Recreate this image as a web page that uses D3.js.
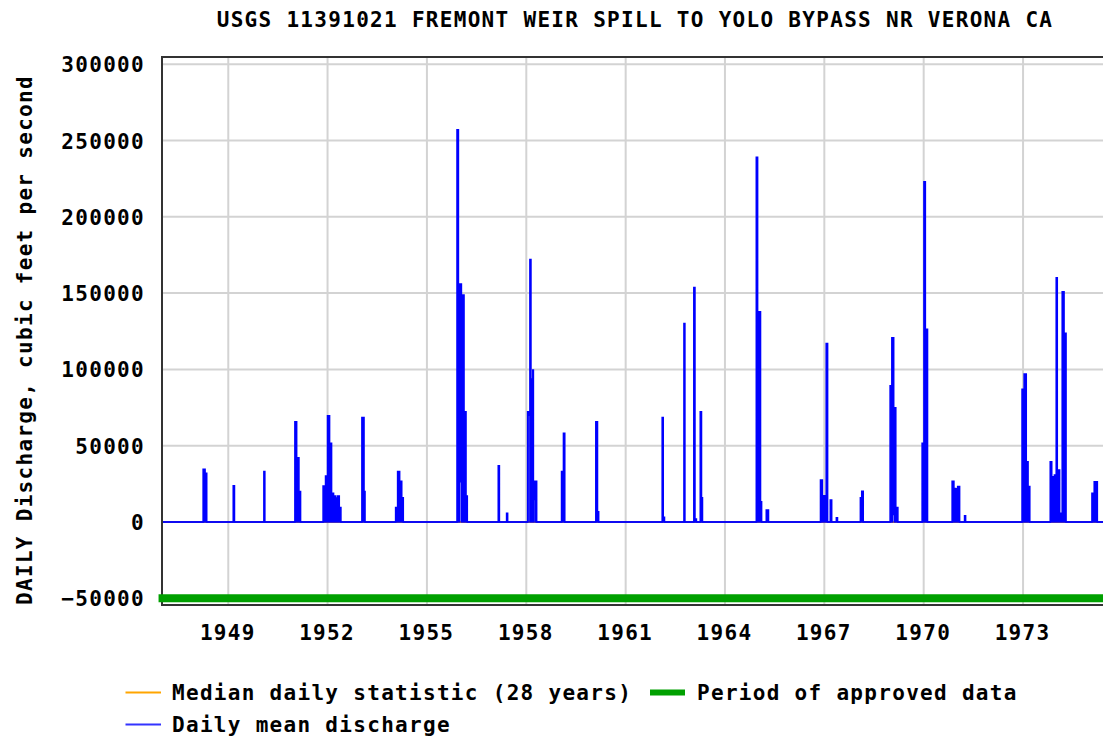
<!DOCTYPE html>
<html>
<head>
<meta charset="utf-8">
<script src="https://cdn.jsdelivr.net/npm/d3@7"></script>
<style>
  body { margin: 0; background: #fff; }
  svg text { font-family: "DejaVu Sans Mono", monospace; font-weight: bold; font-size: 21px; letter-spacing: 1.3px; fill: #000; }
</style>
</head>
<body>
<svg id="chart" width="1103" height="736"></svg>
<script>
// ---------------- data ----------------
const chartTitle = "USGS 11391021 FREMONT WEIR SPILL TO YOLO BYPASS NR VERONA CA";
const yAxisTitle = "DAILY Discharge, cubic feet per second";
const yTickValues = [-50000, 0, 50000, 100000, 150000, 200000, 250000, 300000];
const xTickYears = [1949, 1952, 1955, 1958, 1961, 1964, 1967, 1970, 1973];
const xDomain = ["1947-01-01", "1975-10-01"];

// Daily mean discharge, as steps: each value holds from its date to the next date
const flowDates = [
  "1947-01-01",
  "1948-03-30", "1948-04-20", "1948-05-08",
  "1949-02-25", "1949-03-10",
  "1950-01-29", "1950-02-08",
  "1951-01-06", "1951-01-25", "1951-02-19", "1951-03-09",
  "1951-11-13", "1951-12-10", "1952-01-01", "1952-01-23", "1952-02-14", "1952-03-07", "1952-03-29", "1952-04-20", "1952-05-09", "1952-05-27",
  "1953-01-14", "1953-02-06", "1953-02-17",
  "1954-01-21", "1954-02-12", "1954-03-06", "1954-03-29", "1954-04-15",
  "1955-11-29", "1955-12-14", "1955-12-25", "1956-01-16", "1956-02-14", "1956-03-07", "1956-03-21",
  "1957-02-26", "1957-03-10", "1957-05-29", "1957-06-09",
  "1958-01-16", "1958-01-20", "1958-02-10", "1958-02-21", "1958-03-14", "1958-03-20", "1958-04-08", "1958-04-25",
  "1959-01-25", "1959-02-15", "1959-03-01",
  "1960-02-07", "1960-02-25", "1960-03-09",
  "1962-02-08", "1962-02-19", "1962-03-05", "1962-10-06", "1962-10-16",
  "1963-01-23", "1963-02-04", "1963-02-20", "1963-04-04", "1963-04-17", "1963-04-28",
  "1964-12-12", "1964-12-26", "1965-01-27", "1965-02-08", "1965-04-01", "1965-04-25",
  "1966-11-20", "1966-12-10", "1967-01-22", "1967-02-06", "1967-03-08", "1967-03-23", "1967-05-14", "1967-05-26",
  "1968-02-03", "1968-02-18", "1968-03-05",
  "1968-12-27", "1969-01-15", "1969-01-20", "1969-02-04", "1969-02-11", "1969-02-27", "1969-03-22",
  "1969-12-15", "1970-01-04", "1970-01-19", "1970-02-12",
  "1970-11-11", "1970-11-30", "1970-12-19", "1971-01-11", "1971-02-01", "1971-03-28", "1971-04-08",
  "1972-12-21", "1973-01-13", "1973-02-05", "1973-02-25", "1973-03-16",
  "1973-10-28", "1973-11-13", "1973-12-13", "1974-01-02", "1974-01-13", "1974-02-08", "1974-03-09", "1974-03-29", "1974-04-20",
  "1975-01-31", "1975-02-25", "1975-03-31",
  "1975-10-01"
];
const flowValues = [
  0,
  34500, 31900, 0,
  23800, 0,
  33000, 0,
  65700, 42100, 19900, 0,
  23600, 30100, 69600, 51500, 18800, 17000, 15700, 17000, 9400, 0,
  68500, 19900, 0,
  9400, 33000, 26600, 15900, 0,
  257000, 156000, 156000, 148700, 72200, 17000, 0,
  36900, 0, 5700, 0,
  72200, 72200, 172000, 93600, 99500, 26600, 26600, 0,
  33000, 58100, 0,
  65700, 6700, 0,
  68500, 3000, 0, 130100, 0,
  153700, 2000, 0, 72200, 15900, 0,
  239000, 137800, 13300, 0, 7900, 0,
  27500, 17200, 117000, 0, 14400, 0, 2800, 0,
  15900, 20100, 0,
  89300, 120700, 120700, 74900, 74900, 9400, 0,
  51500, 223000, 126200, 0,
  26600, 22000, 21800, 23200, 0, 4100, 0,
  86900, 96900, 39500, 23200, 0,
  39500, 29700, 30700, 160000, 34000, 5700, 150900, 123600, 0,
  18800, 26400, 0,
  0
];
// lower edge of each step (the daily trace dips no lower than this within the step)
const flowFloor = [
  0,
  0, 0, 0,
  0, 0,
  0, 0,
  0, 0, 0, 0,
  0, 0, 0, 0, 0, 0, 0, 0, 0, 0,
  0, 0, 0,
  0, 0, 0, 0, 0,
  0, 0, 26400, 0, 0, 0, 0,
  0, 0, 0, 0,
  0, 70000, 0, 0, 0, 14800, 0, 0,
  0, 0, 0,
  0, 0, 0,
  0, 0, 0, 0, 0,
  0, 0, 0, 0, 0, 0,
  0, 0, 0, 0, 0, 0,
  0, 0, 0, 0, 0, 0, 0, 0,
  0, 0, 0,
  0, 0, 5000, 5000, 0, 0, 0,
  0, 0, 0, 0,
  0, 0, 0, 0, 0, 0, 0,
  0, 0, 0, 0, 0,
  0, 0, 0, 0, 0, 0, 0, 0, 0,
  0, 0, 0,
  0
];

const medianDates = ["1947-01-01", "1975-10-01"];
const medianValues = [0, 0];
const approvedPeriod = ["1946-11-24", "1975-10-01"];
const approvedLevel = -50000;

const legendLabels = ["Median daily statistic (28 years)", "Period of approved data", "Daily mean discharge"];
const colors = { median: "#ffa500", approved: "#00a000", flow: "#0000ff", flowLegend: "#3333ff", grid: "#d3d3d3", frame: "#333333" };

// ---------------- chart ----------------
const svg = d3.select("#chart");
const P = { left: 162, top: 57, bottom: 605, right: 1114 };
const parse = d3.utcParse("%Y-%m-%d");

const x = d3.scaleUtc().domain(xDomain.map(parse)).range([P.left, P.right]);
const y = d3.scaleLinear().domain([-50000, 300000]).range([598.3, 64.2]);

svg.append("rect").attr("width", 1103).attr("height", 736).attr("fill", "#fff");

// gridlines
const grid = svg.append("g");
grid.selectAll("line.h").data(yTickValues).join("line")
  .attr("x1", P.left).attr("x2", P.right)
  .attr("y1", d => y(d)).attr("y2", d => y(d))
  .attr("stroke", colors.grid).attr("stroke-width", 2);
const xTickDates = xTickYears.map(yr => new Date(Date.UTC(yr, 0, 1)));
grid.selectAll("line.v").data(xTickDates).join("line")
  .attr("x1", d => x(d)).attr("x2", d => x(d))
  .attr("y1", P.top).attr("y2", P.bottom)
  .attr("stroke", colors.grid).attr("stroke-width", 2);

// clip
svg.append("clipPath").attr("id", "plotclip").append("rect")
  .attr("x", P.left).attr("y", P.top).attr("width", P.right - P.left).attr("height", P.bottom - P.top);

const dataG = svg.append("g").attr("clip-path", "url(#plotclip)");

// median (orange) line
const medianData = medianDates.map((d, i) => ({ date: parse(d), v: medianValues[i] }));
dataG.append("path").datum(medianData)
  .attr("d", d3.line().x(d => x(d.date)).y(d => y(d.v)))
  .attr("fill", "none").attr("stroke", colors.median).attr("stroke-width", 2);

// daily mean discharge
const flow = flowDates.map((d, i) => ({ date: parse(d), v: flowValues[i], lo: flowFloor[i] }));
dataG.append("path").datum(flow)
  .attr("d", d3.area().curve(d3.curveStepAfter).x(d => x(d.date)).y0(d => y(d.lo)).y1(d => y(d.v)))
  .attr("fill", colors.flow).attr("stroke", "none");
dataG.append("path").datum(flow)
  .attr("d", d3.line().curve(d3.curveStepAfter).x(d => x(d.date)).y(d => y(d.v)))
  .attr("fill", "none").attr("stroke", colors.flow).attr("stroke-width", 1.6);
dataG.append("path").datum(flow)
  .attr("d", d3.line().curve(d3.curveStepAfter).x(d => x(d.date)).y(d => y(d.lo)))
  .attr("fill", "none").attr("stroke", colors.flow).attr("stroke-width", 1.6);

// frame
svg.append("rect")
  .attr("x", P.left).attr("y", P.top).attr("width", P.right - P.left).attr("height", P.bottom - P.top)
  .attr("fill", "none").attr("stroke", colors.frame).attr("stroke-width", 2);

// approved period bar
svg.append("line")
  .attr("x1", x(parse(approvedPeriod[0]))).attr("x2", x(parse(approvedPeriod[1])))
  .attr("y1", y(approvedLevel)).attr("y2", y(approvedLevel))
  .attr("stroke", colors.approved).attr("stroke-width", 8);

// axes
const yAxis = svg.append("g").attr("transform", `translate(${P.left},0)`)
  .call(d3.axisLeft(y).tickValues(yTickValues).tickSize(0).tickPadding(17).tickFormat(d3.format("d")));
yAxis.select(".domain").remove();
yAxis.selectAll("text").attr("dy", "0.36em").attr("font-family", null).attr("font-size", null);

const xAxis = svg.append("g").attr("transform", `translate(0,${P.bottom})`)
  .call(d3.axisBottom(x).tickValues(xTickDates).tickSize(0).tickPadding(20).tickFormat(d3.utcFormat("%Y")));
xAxis.select(".domain").remove();
xAxis.selectAll("text").attr("dx", "-1").attr("font-family", null).attr("font-size", null);

// title
svg.append("text").attr("x", 635).attr("y", 27).attr("text-anchor", "middle").text(chartTitle);

// y axis title
svg.append("text").attr("transform", "translate(32,340) rotate(-90)").attr("text-anchor", "middle").text(yAxisTitle);

// legend
const lg = svg.append("g");
lg.append("line").attr("x1", 125.5).attr("x2", 161).attr("y1", 692.5).attr("y2", 692.5).attr("stroke", colors.median).attr("stroke-width", 2);
lg.append("text").attr("x", 172).attr("y", 700).text(legendLabels[0]);
lg.append("line").attr("x1", 650).attr("x2", 685).attr("y1", 692.5).attr("y2", 692.5).attr("stroke", colors.approved).attr("stroke-width", 6);
lg.append("text").attr("x", 697).attr("y", 700).text(legendLabels[1]);
lg.append("line").attr("x1", 125.5).attr("x2", 161).attr("y1", 724.5).attr("y2", 724.5).attr("stroke", colors.flowLegend).attr("stroke-width", 2);
lg.append("text").attr("x", 172).attr("y", 732).text(legendLabels[2]);
</script>
</body>
</html>
